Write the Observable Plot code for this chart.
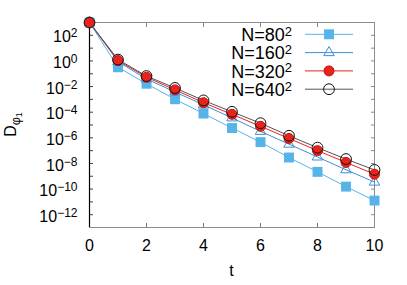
<!DOCTYPE html>
<html><head><meta charset="utf-8">
<script src="https://cdn.jsdelivr.net/npm/d3@7"></script>
<script src="https://cdn.jsdelivr.net/npm/@observablehq/plot@0.6"></script>
<style>
body{margin:0;background:#fff}
#chart svg{font-family:"Liberation Sans",Arial,sans-serif}
</style>
</head><body><div id="chart"></div>
<script>
// ---- data ----
const t = [0,1,2,3,4,5,6,7,8,9,10];
const seriesNames = ["N=80^2","N=160^2","N=320^2","N=640^2"];
const dN80  = [1e3, 0.32, 1.66e-2, 1.02e-3, 7.8e-5, 5.8e-6, 4.6e-7, 2.9e-8, 2.2e-9, 1.55e-10, 1.26e-11];
const dN160 = [1e3, 0.89, 3.9e-2, 3.8e-3, 3.7e-4, 3.6e-5, 3.2e-6, 3.2e-7, 3.2e-8, 3.2e-9, 3.5e-10];
const dN320 = [1e3, 1.07, 5.4e-2, 5.5e-3, 5.5e-4, 6.8e-5, 7.9e-6, 8.9e-7, 1.0e-7, 1.2e-8, 1.45e-9];
const dN640 = [1e3, 1.27, 6.6e-2, 7.8e-3, 8.3e-4, 1.07e-4, 1.38e-5, 1.45e-6, 1.7e-7, 2.2e-8, 3.1e-9];
const xTicks = [0,2,4,6,8,10];
const yLabelExps = [2,0,-2,-4,-6,-8,-10,-12];
const yTickExps = [2,1,0,-1,-2,-3,-4,-5,-6,-7,-8,-9,-10,-11,-12];
const yDomain = [1e-13, 1e3];
const xDomain = [0, 10];

// ---- styles ----
const W = 407, H = 285, mL = 89, mR = 33, mT = 22, mB = 58;
const FONT = 16, LEGFONT = 18;
const styles = [
  {line:"#56b4e9", symbol:"square",   fill:"#56b4e9", stroke:"none",   r:5.6},
  {line:"#3d8fd8", symbol:"triangle", fill:"none",    stroke:"#3d8fd8",r:3.9},
  {line:"#e8231c", symbol:"circle",   fill:"#e8231c", stroke:"#c21414",r:5},
  {line:"#555555", symbol:"circle",   fill:"none",    stroke:"#111111",r:5.4}
];
const seriesValues = [dN80, dN160, dN320, dN640];
const series = seriesNames.map((name, k) => ({
  name, style: styles[k],
  rows: t.map((tt, i) => ({t: tt, v: seriesValues[k][i]}))
}));

const yTicks = yTickExps.map(e => Math.pow(10, e));
const yLabels = yLabelExps.map(e => Math.pow(10, e));
const fmtExp = d => { const e = Math.round(Math.log10(d)); return "10^" + (e < 0 ? "\u2212" + (-e) : e); };

const marks = [
  Plot.frame({stroke:"#8c8c8c"}),
  // inward ticks on all four sides
  Plot.axisX(xTicks.slice(1,-1), {anchor:"bottom", tickSize:4, dy:-4, fill:"none", tickFormat:()=>"", label:null, stroke:"#777"}),
  Plot.axisX(xTicks.slice(1,-1), {anchor:"top", tickSize:4, dy:4, fill:"none", tickFormat:()=>"", label:null, stroke:"#888"}),
  Plot.axisY(yTicks, {anchor:"left", tickSize:4, dx:4, fill:"none", tickFormat:()=>"", label:null, stroke:"#444"}),
  Plot.axisY(yTicks, {anchor:"right", tickSize:4, dx:-4, fill:"none", tickFormat:()=>"", label:null, stroke:"#888"}),
  // tick labels
  Plot.axisX(xTicks, {anchor:"bottom", tickSize:0, tickPadding:12, fontSize:FONT, label:null, fill:"#000"}),
  Plot.axisY(yLabels, {anchor:"left", tickSize:0, tickPadding:12, dy:2, fontSize:FONT, label:null, fill:"#000", tickFormat: fmtExp}),
  Plot.ruleX([0], {stroke:"#000", strokeWidth:1.2})
];
series.forEach(s => {
  marks.push(Plot.line(s.rows, {x:"t", y:"v", stroke:s.style.line, strokeWidth:1}));
});
series.forEach(s => {
  marks.push(Plot.dot(s.rows, {x:"t", y:"v", symbol:s.style.symbol, r:s.style.r,
    fill:s.style.fill, stroke:s.style.stroke, strokeWidth:1}));
});

const chart = Plot.plot({
  width: W, height: H,
  marginLeft: mL, marginRight: mR, marginTop: mT, marginBottom: mB,
  style: {fontFamily: '"Liberation Sans", Arial, sans-serif', fontSize: FONT + "px", background:"#fff"},
  x: {type:"linear", domain: xDomain},
  y: {type:"log", domain: yDomain},
  marks
});
document.getElementById("chart").appendChild(chart);

const svg = d3.select(chart);
// superscripts in tick labels
svg.selectAll("text").each(function(){
  const s = this.textContent;
  const m = s.match(/^(.*?)\^(.*)$/);
  if (!m) return;
  const el = d3.select(this);
  el.text(m[1]);
  el.append("tspan").attr("dy","-0.42em").attr("font-size","0.75em").text(m[2]);
});

const x0 = mL, x1 = W - mR, y0 = mT, y1 = H - mB;
// axis titles
svg.append("text").attr("x", (x0 + x1) / 2).attr("y", 276).attr("text-anchor","middle")
  .attr("font-size", FONT).attr("fill","#000").text("t");
const yl = svg.append("text").attr("transform", `translate(16,${(y0 + y1) / 2}) rotate(-90)`)
  .attr("text-anchor","middle").attr("font-size", FONT).attr("fill","#000");
yl.append("tspan").text("D");
yl.append("tspan").attr("dy","0.3em").attr("font-size","0.78em").text("\u03c6");
yl.append("tspan").attr("dy","0.25em").attr("font-size","0.55em").text("1");

// legend
const legX = x1 - 82, lineA = x1 - 69, lineB = x1 - 21, legY0 = y0 + 12.3, legDY = 18.3;
series.forEach((s, k) => {
  const cy = legY0 + k * legDY;
  const g = svg.append("g");
  const m = s.name.match(/^(.*?)\^(.*)$/);
  const tx = g.append("text").attr("x", legX).attr("y", cy).attr("dy","0.38em")
    .attr("text-anchor","end").attr("font-size", LEGFONT).attr("fill","#000").text(m[1]);
  tx.append("tspan").attr("dy","-0.42em").attr("font-size","0.72em").text(m[2]);
  g.append("line").attr("x1", lineA).attr("x2", lineB).attr("y1", cy).attr("y2", cy)
    .attr("stroke", s.style.line).attr("stroke-width", 1);
  const sym = {square: d3.symbolSquare, triangle: d3.symbolTriangle, circle: d3.symbolCircle}[s.style.symbol];
  g.append("path").attr("transform", `translate(${(lineA + lineB) / 2},${cy})`)
    .attr("d", d3.symbol(sym, Math.PI * s.style.r * s.style.r)())
    .attr("fill", s.style.fill).attr("stroke", s.style.stroke);
});
</script>
</body></html>
